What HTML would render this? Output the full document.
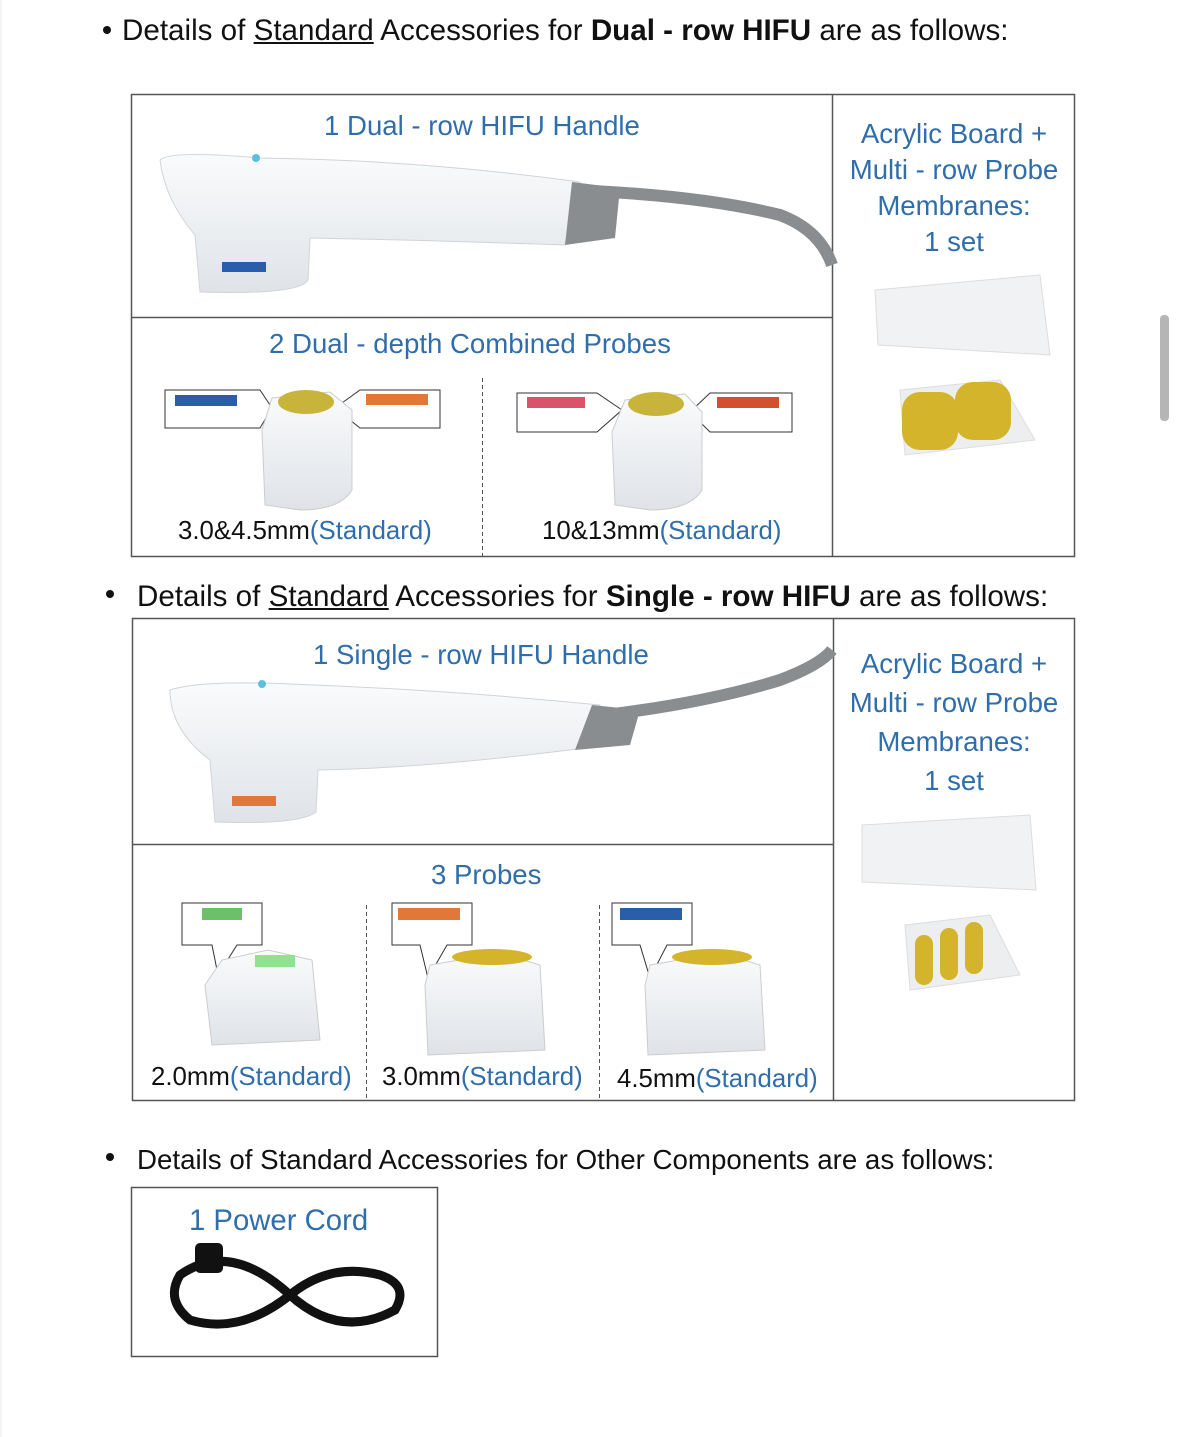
<!DOCTYPE html>
<html><head><meta charset="utf-8"><style>
body{margin:0;width:1179px;height:1437px;background:#fff;position:relative;overflow:hidden;font-family:"Liberation Sans",Arial,sans-serif;}
.t{position:absolute;white-space:nowrap;color:#111;}
.h{font-size:29.6px;}
.b{color:#2f6eab;font-size:27.6px;}
.k{font-size:25.8px;color:#111;}
.k span{color:#2f6eab}
u{text-decoration:underline}
</style></head><body>
<svg width="1179" height="1437" style="position:absolute;left:0;top:0">
<defs>
<linearGradient id="bd" x1="0" y1="0" x2="0" y2="1"><stop offset="0" stop-color="#fafbfc"/><stop offset="1" stop-color="#dfe3e8"/></linearGradient>
</defs>
<rect x="1160" y="315" width="9" height="106" rx="4" fill="#b5b5b5"/>
<line x1="1" y1="0" x2="1" y2="1437" stroke="#e8e8e8"/>
<circle cx="107" cy="30" r="4" fill="#111"/>
<circle cx="110" cy="594" r="4" fill="#111"/>
<circle cx="110" cy="1157" r="4" fill="#111"/>
<g fill="none" stroke="#555" stroke-width="1.5">
<rect x="131.5" y="94.5" width="943" height="462"/>
<line x1="832.5" y1="94" x2="832.5" y2="557"/>
<line x1="131" y1="317.5" x2="832" y2="317.5"/>
<line x1="482.5" y1="378" x2="482.5" y2="556" stroke-dasharray="4 3" stroke-width="1"/>
<rect x="132.5" y="618.5" width="942" height="482"/>
<line x1="833.5" y1="618" x2="833.5" y2="1101"/>
<line x1="132" y1="844.5" x2="833" y2="844.5"/>
<line x1="366.5" y1="905" x2="366.5" y2="1100" stroke-dasharray="4 3" stroke-width="1"/>
<line x1="599.5" y1="905" x2="599.5" y2="1100" stroke-dasharray="4 3" stroke-width="1"/>
<rect x="131.5" y="1187.5" width="306" height="169"/>
</g>
<path d="M570 190 Q700 195 780 215 Q820 230 832 265" stroke="#8a8d90" stroke-width="12" fill="none"/>
<path d="M160 160 Q170 150 260 158 Q420 160 580 182 L565 245 Q420 240 310 238 L308 280 Q300 295 200 292 L195 235 Q165 200 160 160Z" fill="url(#bd)" stroke="#d0d4d8"/>
<path d="M572 182 L620 188 L615 238 L565 245Z" fill="#8a8d90"/>
<circle cx="256" cy="158" r="4" fill="#5bc0de"/>
<rect x="222" y="262" width="44" height="10" fill="#2a5ea8"/>
<path d="M165 390 H260 L272 408 L260 428 H165Z" fill="#fff" stroke="#333"/>
<rect x="175" y="395" width="62" height="11" fill="#2a5ea8"/>
<path d="M440 390 H360 L335 408 L360 428 H440Z" fill="#fff" stroke="#333"/>
<rect x="366" y="394" width="62" height="11" fill="#e2773a"/>
<path d="M272 398 L330 392 L352 410 L352 490 Q340 510 300 510 L265 505 L262 430Z" fill="url(#bd)" stroke="#ccc"/>
<ellipse cx="306" cy="402" rx="28" ry="12" fill="#c8b43a"/>
<path d="M517 393 H597 L622 410 L597 432 H517Z" fill="#fff" stroke="#333"/>
<rect x="527" y="397" width="58" height="11" fill="#d9536a"/>
<path d="M792 393 H710 L690 412 L710 432 H792Z" fill="#fff" stroke="#333"/>
<rect x="717" y="397" width="62" height="11" fill="#d0502f"/>
<path d="M625 400 L685 394 L702 412 L702 490 Q690 510 650 510 L615 505 L612 432Z" fill="url(#bd)" stroke="#ccc"/>
<ellipse cx="656" cy="404" rx="28" ry="12" fill="#c8b43a"/>
<path d="M875 290 L1040 275 L1050 355 L878 345Z" fill="#f1f2f3" stroke="#ddd"/>
<path d="M900 390 L1000 380 L1035 440 L905 455Z" fill="#eceef0" stroke="#ddd"/>
<rect x="902" y="392" width="56" height="58" rx="18" fill="#d4b42a"/>
<rect x="955" y="382" width="56" height="58" rx="18" fill="#d4b42a"/>
<path d="M580 718 Q700 705 780 680 Q820 665 832 650" stroke="#8a8d90" stroke-width="12" fill="none"/>
<path d="M170 690 Q200 680 290 684 Q450 690 600 705 L585 748 Q430 768 318 770 L316 812 Q300 825 215 822 L210 760 Q170 730 170 690Z" fill="url(#bd)" stroke="#d0d4d8"/>
<path d="M592 705 L640 710 L630 745 L575 750Z" fill="#8a8d90"/>
<circle cx="262" cy="684" r="4" fill="#5bc0de"/>
<rect x="232" y="796" width="44" height="10" fill="#e2773a"/>
<g>
<path d="M182 903 H262 V945 H237 L218 975 L212 945 H182Z" fill="#fff" stroke="#333"/>
<rect x="202" y="908" width="40" height="12" fill="#6cc06a"/>
<path d="M222 960 L268 950 L312 960 L320 1040 L212 1045 L205 985Z" fill="url(#bd)" stroke="#ccc"/>
<rect x="255" y="955" width="40" height="12" fill="#8fe28f"/>
<path d="M392 903 H472 V945 H447 L428 978 L420 945 H392Z" fill="#fff" stroke="#333"/>
<rect x="398" y="908" width="62" height="12" fill="#e2773a"/>
<path d="M430 965 L500 953 L540 965 L545 1050 L428 1055 L425 985Z" fill="url(#bd)" stroke="#ccc"/>
<ellipse cx="492" cy="957" rx="40" ry="8" fill="#d4b42a"/>
<path d="M612 903 H692 V945 H667 L650 978 L640 945 H612Z" fill="#fff" stroke="#333"/>
<rect x="620" y="908" width="62" height="12" fill="#2a5ea8"/>
<path d="M650 965 L720 953 L760 965 L765 1050 L648 1055 L645 985Z" fill="url(#bd)" stroke="#ccc"/>
<ellipse cx="712" cy="957" rx="40" ry="8" fill="#d4b42a"/>
</g>
<path d="M862 825 L1030 815 L1036 890 L862 882Z" fill="#f1f2f3" stroke="#ddd"/>
<path d="M905 925 L990 915 L1020 975 L910 990Z" fill="#eceef0" stroke="#ddd"/>
<rect x="915" y="935" width="18" height="50" rx="9" fill="#d4b42a"/>
<rect x="940" y="928" width="18" height="52" rx="9" fill="#d4b42a"/>
<rect x="965" y="922" width="18" height="52" rx="9" fill="#d4b42a"/>
<g fill="none" stroke="#111" stroke-width="9">
<path d="M180 1275 Q230 1240 290 1295 Q340 1340 395 1310 Q410 1285 380 1275 Q330 1262 290 1295 Q240 1335 190 1320 Q165 1300 180 1275Z"/>
</g>
<rect x="195" y="1243" width="28" height="30" rx="5" fill="#111"/>
</svg>
<div class="t h" style="left:122px;top:14px">Details of <u>Standard</u> Accessories for <b>Dual - row HIFU</b> are as follows:</div>
<div class="t b" style="left:324px;top:110px">1 Dual - row HIFU Handle</div>
<div class="t b" style="left:833px;top:116px;width:242px;text-align:center;white-space:normal;line-height:36px">Acrylic Board +<br>Multi - row Probe<br>Membranes:<br>1 set</div>
<div class="t b" style="left:269px;top:328px">2 Dual - depth Combined Probes</div>
<div class="t k" style="left:178px;top:517px">3.0&amp;4.5mm<span>(Standard)</span></div>
<div class="t k" style="left:542px;top:517px">10&amp;13mm<span>(Standard)</span></div>
<div class="t h" style="left:137px;top:580px">Details of <u>Standard</u> Accessories for <b>Single - row HIFU</b> are as follows:</div>
<div class="t b" style="left:313px;top:639px">1 Single - row HIFU Handle</div>
<div class="t b" style="left:834px;top:644px;width:240px;text-align:center;white-space:normal;line-height:39px">Acrylic Board +<br>Multi - row Probe<br>Membranes:<br>1 set</div>
<div class="t b" style="left:431px;top:859px">3 Probes</div>
<div class="t k" style="left:151px;top:1063px">2.0mm<span>(Standard)</span></div>
<div class="t k" style="left:382px;top:1063px">3.0mm<span>(Standard)</span></div>
<div class="t k" style="left:617px;top:1065px">4.5mm<span>(Standard)</span></div>
<div class="t h" style="left:137px;top:1144px;font-size:27.7px">Details of Standard Accessories for Other Components are as follows:</div>
<div class="t b" style="left:189px;top:1204px;font-size:29.3px">1 Power Cord</div>
</body></html>
